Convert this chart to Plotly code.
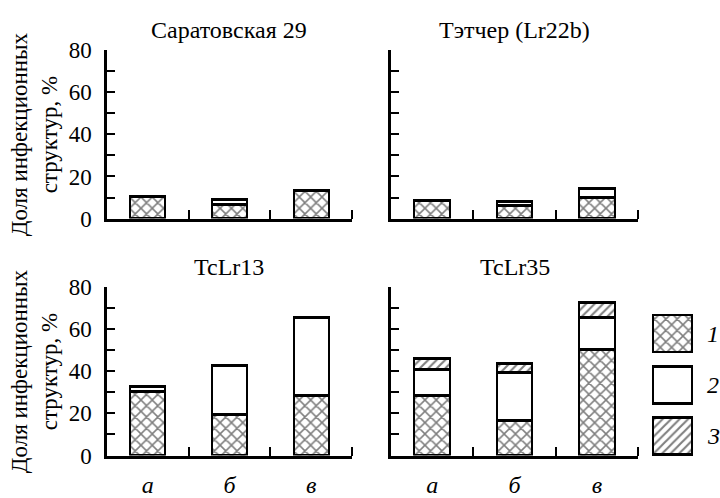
import plotly.graph_objects as go

titles = ["Саратовская 29", "Тэтчер (Lr22b)", "TcLr13", "TcLr35"]
categories = ["а", "б", "в"]
series_names = ["1", "2", "3"]
# values per panel (a, б, в)
series1 = [[10.5, 6.5, 13], [8.5, 6, 10], [30, 19.5, 28.5], [28.5, 16.5, 50]]
series2 = [[None, 2.5, None], [None, 2, 4], [2.5, 23, 37], [12, 22.5, 15.5]]
series3 = [[None, None, None], [None, None, None], [None, None, None], [5.5, 4.5, 7]]
y_ticks = [0, 20, 40, 60, 80]
y_minor = [10, 30, 50, 70]
y_title = "Доля инфекционных<br>структур, %"

W, H = 720, 498
FONT = "Liberation Serif"
FS = 23
LW = 2.5

patterns = [dict(shape="x", size=8, solidity=0.35),
            dict(shape="", size=8, solidity=0.2),
            dict(shape="/", size=6, solidity=0.35)]

# panel pixel boxes: (left, right, top, bottom)
boxes = [(107, 352, 40, 218), (391, 638, 40, 218),
         (107, 352, 290, 468), (391, 638, 290, 468)]
# legend swatch rows (top, bottom) in pixels and x extent
legend_rows = [(320, 359), (374, 413), (428, 467)]
legend_x = (649, 696)

fig = go.Figure()
annotations = []
for i, (l, r, t, b) in enumerate(boxes):
    n = i + 1
    xa = "x" if n == 1 else f"x{n}"
    ya = "y" if n == 1 else f"y{n}"
    xs = list(range(len(categories)))
    for vals, pat in zip([series1[i], series2[i], series3[i]], patterns):
        fig.add_trace(go.Bar(
            x=xs, y=vals, xaxis=xa, yaxis=ya, width=0.43, showlegend=False,
            marker=dict(color="white",
                        line=dict(color="black", width=LW),
                        pattern=dict(fgcolor="black", bgcolor="white", **pat)),
        ))
    xkey = "xaxis" if n == 1 else f"xaxis{n}"
    ykey = "yaxis" if n == 1 else f"yaxis{n}"
    fig.layout[xkey] = dict(
        domain=[l / W, r / W], anchor=ya, range=[-0.5, 2.5],
        showline=True, linecolor="black", linewidth=LW, showgrid=False, zeroline=False,
        tickmode="array", tickvals=xs, ticktext=categories, ticks="",
        showticklabels=(i >= 2),
        tickfont=dict(family=FONT, size=24, color="black", style="italic"),
        ticklabelstandoff=6,
        minor=dict(tickmode="array", tickvals=[0.5, 1.5, 2.5], ticks="inside",
                   ticklen=9, tickwidth=2, tickcolor="black", showgrid=False),
        fixedrange=True,
    )
    fig.layout[ykey] = dict(
        domain=[1 - b / H, 1 - t / H], anchor=xa, range=[0, 80],
        showline=True, linecolor="black", linewidth=LW, showgrid=False, zeroline=False,
        tickmode="array", tickvals=y_ticks, ticks="inside", ticklen=8, tickwidth=2,
        tickcolor="black", showticklabels=(i % 2 == 0),
        tickfont=dict(family=FONT, size=FS, color="black"),
        ticklabelstandoff=8,
        minor=dict(tickmode="array", tickvals=y_minor, ticks="inside",
                   ticklen=8, tickwidth=2, tickcolor="black", showgrid=False),
        fixedrange=True,
    )
    annotations.append(dict(
        text=titles[i], xref="paper", yref="paper", x=(l + r) / 2 / W,
        y=1 - (t - 21) / H, xanchor="center", yanchor="middle", showarrow=False,
        font=dict(family=FONT, size=24, color="black")))
    if i % 2 == 0:
        annotations.append(dict(
            text=y_title, xref="paper", yref="paper", x=34 / W,
            y=1 - (t + b) / 2 / H, xanchor="center", yanchor="middle",
            textangle=-90, showarrow=False,
            font=dict(family=FONT, size=FS, color="black")))

# legend: one tiny axis per swatch, each holding a single unit bar
for k, (name, pat, (rt, rb)) in enumerate(zip(series_names, patterns, legend_rows)):
    n = 5 + k
    fig.add_trace(go.Bar(
        x=[name], y=[1], width=0.83, xaxis=f"x{n}", yaxis=f"y{n}",
        showlegend=False,
        marker=dict(color="white", line=dict(color="black", width=LW),
                    pattern=dict(fgcolor="black", bgcolor="white", **pat)),
    ))
    fig.layout[f"xaxis{n}"] = dict(
        domain=[legend_x[0] / W, legend_x[1] / W], anchor=f"y{n}", type="category",
        range=[-0.5, 0.5], showline=False, showgrid=False, zeroline=False,
        showticklabels=False, ticks="", fixedrange=True)
    fig.layout[f"yaxis{n}"] = dict(
        domain=[1 - (rb + 2) / H, 1 - (rt - 2) / H], anchor=f"x{n}",
        range=[-0.05, 1.05], showline=False, showgrid=False, zeroline=False,
        showticklabels=False, ticks="", fixedrange=True)
    annotations.append(dict(
        text=name, xref="paper", yref="paper", x=705 / W, y=1 - (rt + rb) / 2 / H,
        xanchor="left", yanchor="middle", showarrow=False,
        font=dict(family=FONT, size=24, color="black", style="italic")))

fig.update_layout(
    width=W, height=H, margin=dict(l=0, r=0, t=0, b=0),
    paper_bgcolor="white", plot_bgcolor="white", barmode="stack",
    bargap=0, annotations=annotations, showlegend=False,
    font=dict(family=FONT, color="black"),
)
fig.write_html("out.html", config={"displayModeBar": False},
               post_script="document.body.style.margin='0';document.body.style.overflow='hidden';")
